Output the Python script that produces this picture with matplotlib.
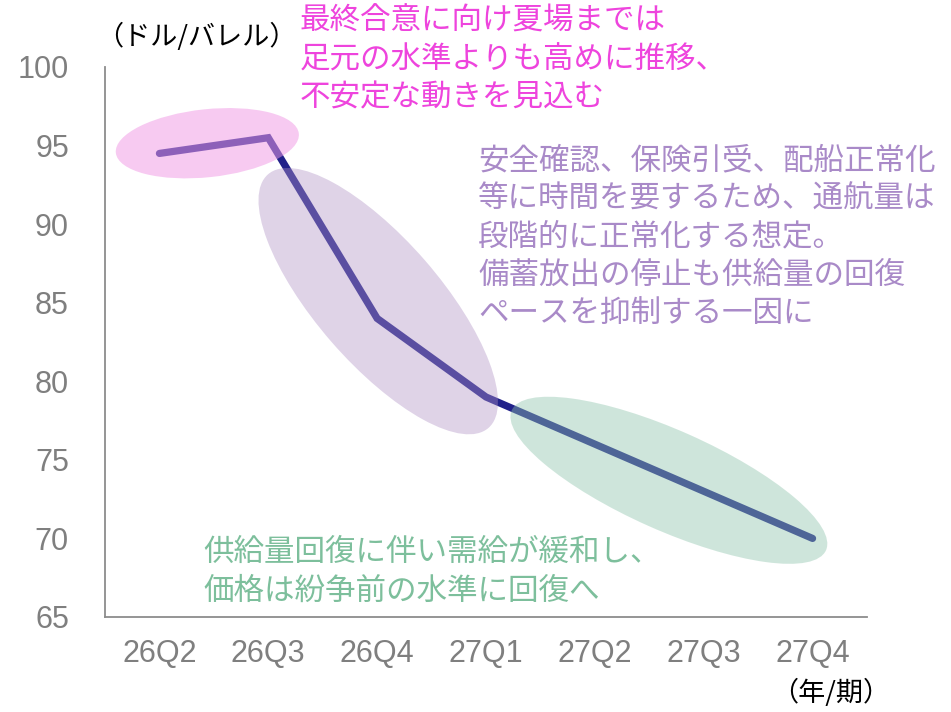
import matplotlib
matplotlib.use("Agg")
import matplotlib.pyplot as plt
from matplotlib.patches import Ellipse
import matplotlib.transforms as mtransforms

# ---------------------- data
quarters = ['26Q2', '26Q3', '26Q4', '27Q1', '27Q2', '27Q3', '27Q4']
price = [94.5, 95.5, 84.0, 79.0, 76.0, 73.0, 70.0]
y_ticks = [65, 70, 75, 80, 85, 90, 95, 100]

note_pink = '最終合意に向け夏場までは\n足元の水準よりも高めに推移、\n不安定な動きを見込む'
note_purple = ('安全確認、保険引受、配船正常化\n等に時間を要するため、通航量は\n'
               '段階的に正常化する想定。\n備蓄放出の停止も供給量の回復\nペースを抑制する一因に')
note_green = '供給量回復に伴い需給が緩和し、\n価格は紛争前の水準に回復へ'

jp = ['Noto Sans CJK JP', 'DejaVu Sans']
latin = ['Liberation Sans', 'DejaVu Sans']

W, H = 951, 712
fig = plt.figure(figsize=(W / 100, H / 100), dpi=100)
ax = fig.add_axes([105 / W, 1 - 617 / H, 762 / W, 550 / H])

x = list(range(len(quarters)))
ax.plot(x, price, color='#22228a', lw=5.2, solid_capstyle='round',
        solid_joinstyle='miter', zorder=2)

ax.set_xlim(-0.5, len(quarters) - 0.5)
ax.set_ylim(65, 100)
ax.set_yticks(y_ticks)
ax.set_xticks(x)
ax.set_xticklabels(quarters)
ax.tick_params(length=0, labelcolor='#7f7f7f', labelsize=22)
ax.tick_params(axis='x', pad=16)
ax.tick_params(axis='y', pad=26)
for lab in ax.get_xticklabels() + ax.get_yticklabels():
    lab.set_family(latin)
for s in ['top', 'right']:
    ax.spines[s].set_visible(False)
for s in ['left', 'bottom']:
    ax.spines[s].set_color('#8c8c8c')
    ax.spines[s].set_linewidth(1.3)


# translucent highlight ellipses: centre in data units, size in pixels
def blob(xc, yc, w_px, h_px, angle, color, alpha):
    tr = fig.dpi_scale_trans + mtransforms.ScaledTranslation(xc, yc, ax.transData)
    e = Ellipse((0, 0), w_px / 100, h_px / 100, angle=angle, transform=tr,
                facecolor=color, edgecolor='none', alpha=alpha, zorder=3)
    ax.add_patch(e)


blob(0.44, 95.15, 184, 68, 6, '#f09ae5', 0.52)
blob(2.01, 85.1, 336, 124, -49, '#af91c5', 0.40)
blob(4.68, 73.7, 344, 100, -24, '#8cc3ab', 0.42)

# annotations
fig.text(300 / W, 1 - 6 / H, note_pink, color='#ee44dd', fontsize=22,
         family=jp, va='top', ha='left', linespacing=1.31)
fig.text(478 / W, 1 - 145 / H, note_purple, color='#a98ac8', fontsize=22,
         family=jp, va='top', ha='left', linespacing=1.31)
fig.text(203 / W, 1 - 537 / H, note_green, color='#7dbf9c', fontsize=22,
         family=jp, va='top', ha='left', linespacing=1.31)

fig.text(96 / W, 1 - 37 / H, '（ドル/バレル）', color='black', fontsize=19.5,
         family=jp, va='center', ha='left')
fig.text(890 / W, 1 - 693 / H, '（年/期）', color='black', fontsize=19.5,
         family=jp, va='center', ha='right')

fig.savefig('out.png', dpi=100)
